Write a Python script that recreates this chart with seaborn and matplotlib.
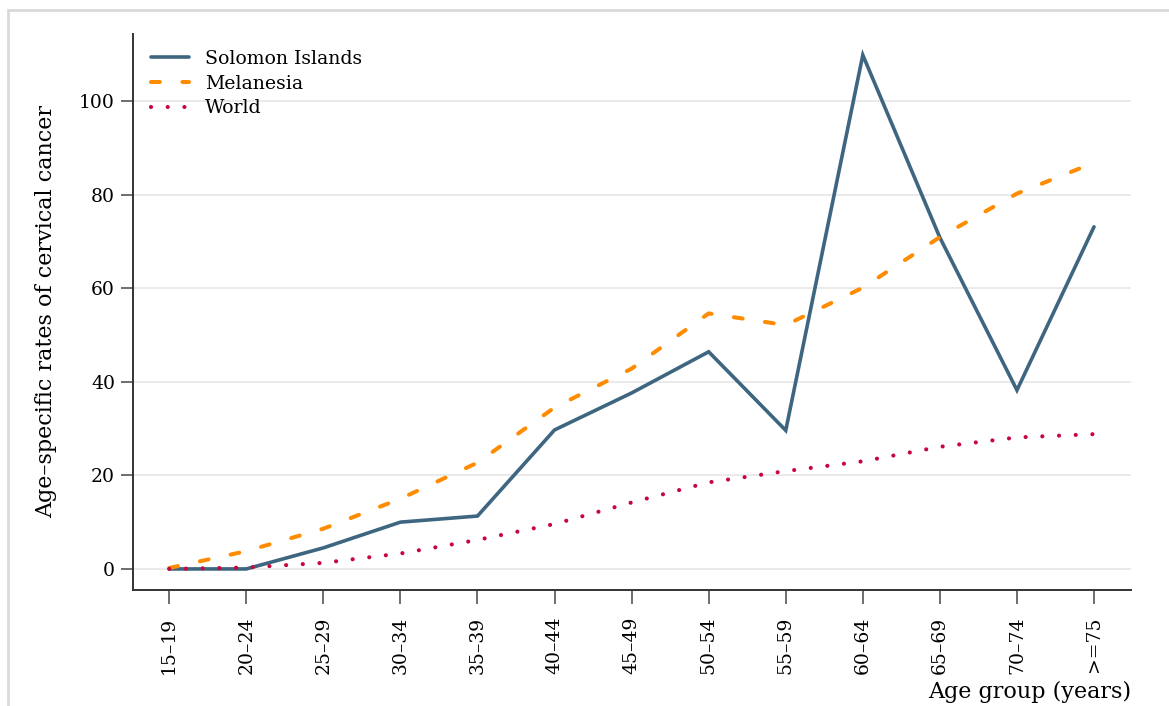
import seaborn as sns
import matplotlib.pyplot as plt
import matplotlib.patches as mpatches
import pandas as pd

age_groups = ['15–19', '20–24', '25–29', '30–34', '35–39', '40–44', '45–49',
              '50–54', '55–59', '60–64', '65–69', '70–74', '>=75']
solomon = [0.0, 0.0, 4.5, 10.0, 11.3, 29.7, 37.6, 46.4, 29.6, 109.8, 70.8, 38.2, 73.1]
melanesia = [0.2, 3.8, 8.6, 15.0, 22.7, 34.5, 42.8, 54.6, 52.1, 60.1, 70.9, 80.2, 86.8]
world = [0.0, 0.3, 1.3, 3.3, 6.2, 9.6, 14.2, 18.5, 20.9, 23.0, 26.1, 28.1, 28.8]
series = ['Solomon Islands', 'Melanesia', 'World']

data = pd.DataFrame({
    'Age group': age_groups * 3,
    'Rate': solomon + melanesia + world,
    'Region': [s for s in series for _ in age_groups],
})

sns.set_theme(style="white")
plt.rcParams['font.family'] = ['DejaVu Serif']
plt.rcParams['text.color'] = 'black'
plt.rcParams['axes.labelcolor'] = 'black'

fig = plt.figure(figsize=(11.69, 7.06), dpi=100)
ax = fig.add_axes([133 / 1169, 116 / 706, 998 / 1169, 556 / 706])

# light outer frame (partially cropped in the original)
fig.patches.append(mpatches.Rectangle((8 / 1169, -0.2), 1.2, 1.2 - 10 / 706,
                                      transform=fig.transFigure, fill=False,
                                      edgecolor='#dadada', linewidth=2))

palette = {
    'Solomon Islands': '#3e6680',
    'Melanesia': '#ff8c00',
    'World': '#c8063e',
}
dashes = {
    'Solomon Islands': '',
    'Melanesia': (2.2, 5.6),
    'World': (0.01, 4.0),
}

sns.lineplot(data=data, x='Age group', y='Rate', hue='Region', style='Region',
             palette=palette, dashes=dashes, sort=False, ax=ax,
             dash_capstyle='round')

widths = {'Solomon Islands': 2.6, 'Melanesia': 2.9, 'World': 3.0}
for line, name in zip(ax.get_lines(), series):
    line.set_linewidth(widths[name])
    line.set_solid_joinstyle('miter')

ax.set_xlim(-0.47, 12.48)
ax.set_ylim(-4.5, 114.3)
ax.set_yticks([0, 20, 40, 60, 80, 100])
ax.grid(axis='y', color='#e6e6e6', linewidth=1.2)
ax.grid(axis='x', visible=False)

for side in ['top', 'right']:
    ax.spines[side].set_visible(False)
for side in ['left', 'bottom']:
    ax.spines[side].set_color('#333333')
    ax.spines[side].set_linewidth(1.4)

ax.tick_params(axis='y', length=9, width=1.2, color='#555555', labelsize=13.5,
               pad=4, left=True, labelcolor='black')
ax.tick_params(axis='x', length=10, width=1.2, color='#555555', labelsize=13.5,
               pad=9, labelrotation=90, bottom=True, labelcolor='black')

ax.set_xlabel('Age group (years)', fontsize=16, loc='right', labelpad=5)
ax.set_ylabel('Age–specific rates of cervical cancer', fontsize=16, labelpad=16)

leg = ax.legend(loc='upper left', bbox_to_anchor=(0.01, 0.985), frameon=False,
                fontsize=13.6, handlelength=2.05, handletextpad=0.85,
                labelspacing=0.35, borderaxespad=0, labelcolor='black')
for h, name in zip(leg.get_lines(), series):
    h.set_linewidth(widths[name])

fig.savefig('out.png', dpi=100)
